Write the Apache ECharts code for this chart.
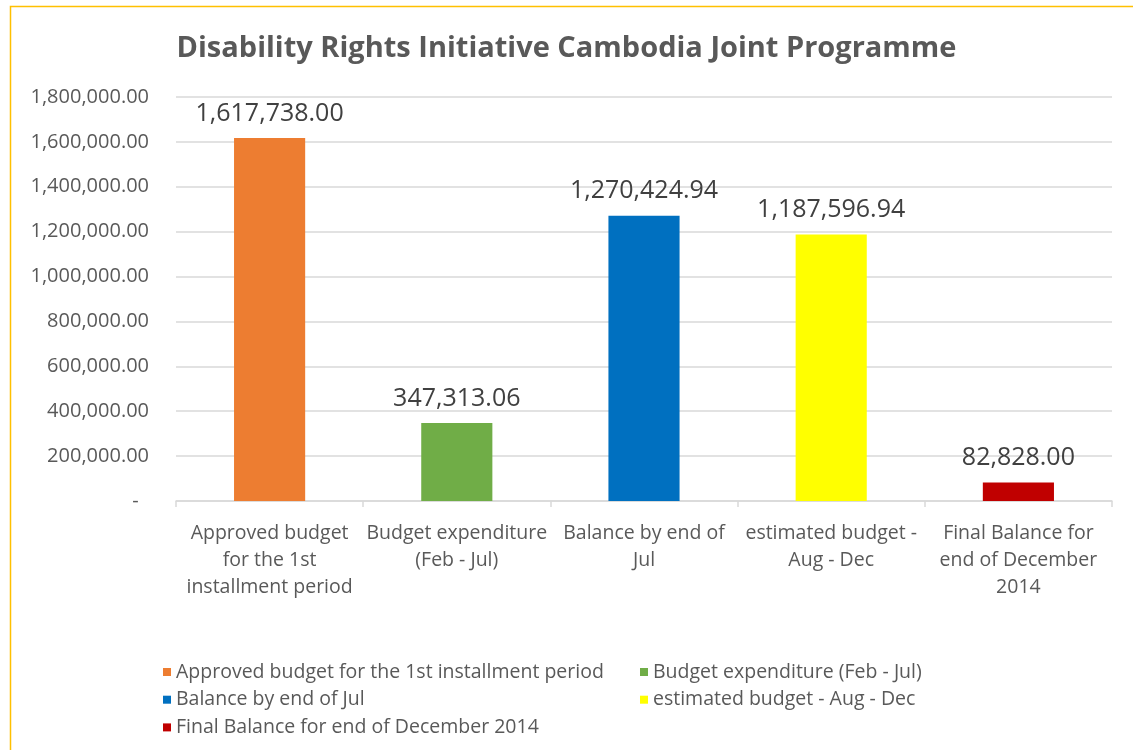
<!DOCTYPE html>
<html>
<head>
<meta charset="utf-8">
<script src="https://cdn.jsdelivr.net/npm/echarts@6/dist/echarts.min.js"></script>
<style>
html,body{margin:0;padding:0;background:#fff;}
#c{width:1133px;height:750px;}
</style>
</head>
<body>
<div id="c"></div>
<script>
const categories = [
  "Approved budget for the 1st installment period",
  "Budget expenditure (Feb - Jul)",
  "Balance by end of Jul",
  "estimated budget - Aug - Dec",
  "Final Balance for end of December 2014"
];
const tickLabels = [
  "Approved budget\nfor the 1st\ninstallment period",
  "Budget expenditure\n(Feb - Jul)",
  "Balance by end of\nJul",
  "estimated budget -\nAug - Dec",
  "Final Balance for\nend of December\n2014"
];
const values = [1617738.00, 347313.06, 1270424.94, 1187596.94, 82828.00];
const colors = ["#ED7D31", "#70AD47", "#0070C0", "#FFFF00", "#C00000"];

const FONT = "Open Sans";
const fmt = v => v.toLocaleString('en-US', {minimumFractionDigits: 2, maximumFractionDigits: 2});

const series = categories.map((name, i) => ({
  name: name,
  type: 'bar',
  stack: 'all',
  barWidth: '38%',
  itemStyle: {color: colors[i]},
  label: {
    show: true, position: 'top', distance: 12,
    formatter: p => fmt(p.value),
    color: '#404040', fontFamily: FONT, fontSize: 25
  },
  data: values.map((v, j) => j === i ? v : null)
}));

const chart = echarts.init(document.getElementById('c'), null, {renderer: 'canvas'});
chart.setOption({
  animation: false,
  backgroundColor: '#fff',
  title: {
    text: 'Disability Rights Initiative Cambodia Joint Programme',
    left: 'center', top: 29,
    textStyle: {fontFamily: FONT, fontWeight: 'bold', fontSize: 29, color: '#595959'}
  },
  graphic: [{
    type: 'rect', left: 8, top: 4, z: -1,
    shape: {x: 0, y: 0, width: 1140, height: 760},
    style: {fill: 'none', stroke: '#FFC000', lineWidth: 1.5}
  }],
  grid: {left: 176, right: 21, top: 97, bottom: 249, containLabel: false},
  xAxis: {
    type: 'category',
    data: tickLabels,
    axisLine: {lineStyle: {color: '#D9D9D9', width: 1.5}},
    axisTick: {show: true, length: 6, lineStyle: {color: '#D9D9D9', width: 1.5}},
    axisLabel: {fontFamily: FONT, fontSize: 19.5, color: '#595959', lineHeight: 27, margin: 19, interval: 0}
  },
  yAxis: {
    type: 'value', min: 0, max: 1800000, interval: 200000,
    axisLine: {show: false}, axisTick: {show: false},
    splitLine: {lineStyle: {color: '#D9D9D9', width: 1.5}},
    axisLabel: {
      fontFamily: FONT, fontSize: 20, color: '#595959', margin: 27,
      formatter: v => v === 0 ? '-  ' : fmt(v)
    }
  },
  legend: [
    {
      data: [categories[0], categories[2], categories[4]],
      orient: 'vertical', left: 163, top: 662, padding: 0,
      itemWidth: 8, itemHeight: 8, itemGap: 7.7, icon: 'rect',
      textStyle: {fontFamily: FONT, fontSize: 19.5, color: '#595959', lineHeight: 20}
    },
    {
      data: [categories[1], categories[3]],
      orient: 'vertical', left: 640, top: 662, padding: 0,
      itemWidth: 8, itemHeight: 8, itemGap: 7.7, icon: 'rect',
      textStyle: {fontFamily: FONT, fontSize: 19.5, color: '#595959', lineHeight: 20}
    }
  ],
  series: series
});
</script>
</body>
</html>
